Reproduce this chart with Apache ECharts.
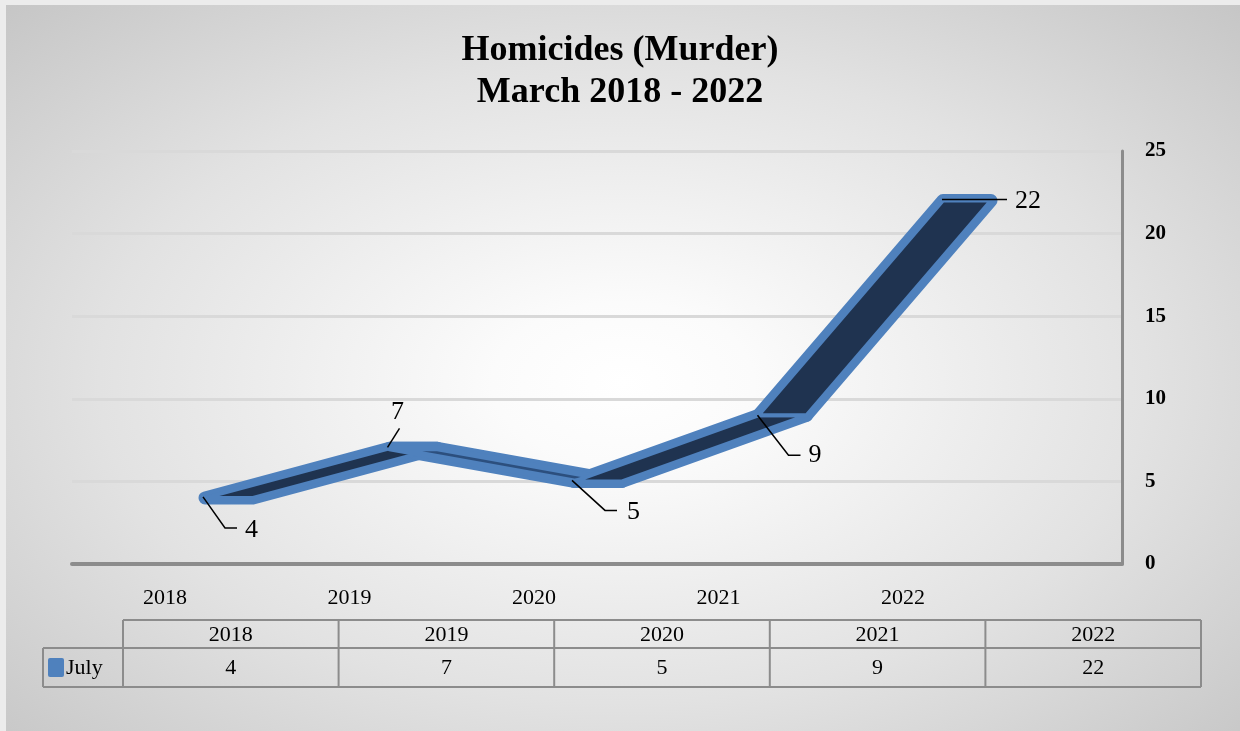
<!DOCTYPE html>
<html><head><meta charset="utf-8">
<script src="https://cdn.jsdelivr.net/npm/echarts@6/dist/echarts.min.js"></script>
<style>
html,body{margin:0;padding:0;background:#fff;}
#wrap{position:relative;width:1240px;height:731px;background:#ececec;overflow:hidden;}
#bg{position:absolute;left:6px;top:5px;right:0;bottom:0;background:radial-gradient(ellipse farthest-corner at 50% 52%, #ffffff 0%, #fbfbfb 15%, #e2e2e2 60%, #c6c6c6 100%);}
#c{position:absolute;left:0;top:0;width:1240px;height:731px;}
</style></head><body>
<div id="wrap"><div id="bg"></div><div id="c"></div></div>
<script>
// ---- data ----
const categories = ['2018', '2019', '2020', '2021', '2022'];
const seriesName = 'July';
const values = [4, 7, 5, 9, 22];
const yMin = 0, yMax = 25, yInterval = 5;
const titleLines = ['Homicides (Murder)', 'March 2018 - 2022'];

// ---- styling / layout constants ----
const FONT = '"Liberation Serif","Times New Roman",serif';
const DEPTH = 48;            // 3D ribbon depth offset (px)
const RIBBON_FILL = '#1f3350';
const RIBBON_UNDER = '#2c4f7e';
const RIBBON_EDGE = '#4f81bd';
const GRID_TOP = 151, GRID_BOTTOM = 167;
// label leader offsets relative to the point (style only)
const labelLayout = [
  {leader: [[-2, -1], [20, 30], [32, 30]], text: [40, 32], align: 'left'},
  {leader: [[-2, -1], [10, -20]], text: [8, -36], align: 'center'},
  {leader: [[-2, -1], [31, 29], [43, 29]], text: [53, 31], align: 'left'},
  {leader: [[-1, 0], [30, 40], [42, 40]], text: [50, 40], align: 'left'},
  {leader: [[-1, -1], [64, -1]], text: [72, 1], align: 'left'}
];

const chart = echarts.init(document.getElementById('c'), null, {renderer: 'canvas'});

function segPoints(i, api) {
  const p0 = api.coord([i, values[i]]);
  const p1 = api.coord([i + 1, values[i + 1]]);
  return [p0, p1, [p1[0] + DEPTH, p1[1]], [p0[0] + DEPTH, p0[1]]];
}
function ribbonOutline(params, api) {
  const i = params.dataIndex;
  if (i >= values.length - 1) return {type: 'group', children: []};
  return {type: 'polygon', shape: {points: segPoints(i, api)},
    style: {fill: RIBBON_EDGE, stroke: RIBBON_EDGE, lineWidth: 13, lineJoin: 'round'}};
}
function ribbonFace(params, api) {
  const i = params.dataIndex;
  if (i >= values.length - 1) return {type: 'group', children: []};
  const down = values[i + 1] < values[i];
  return {type: 'polygon', shape: {points: segPoints(i, api)},
    style: {fill: down ? RIBBON_UNDER : RIBBON_FILL, stroke: RIBBON_EDGE, lineWidth: down ? 6 : 4, lineJoin: 'round'}};
}

function labelItem(params, api) {
  const i = params.dataIndex;
  const p = api.coord([i, values[i]]);
  const L = labelLayout[i];
  return {
    type: 'group',
    children: [
      {type: 'polyline', shape: {points: L.leader.map(o => [p[0] + o[0], p[1] + o[1]])},
       style: {stroke: '#000', lineWidth: 1.5, fill: null}},
      {type: 'text', style: {text: String(values[i]), x: p[0] + L.text[0], y: p[1] + L.text[1],
        textAlign: L.align, textVerticalAlign: 'middle', font: '26px ' + FONT, fill: '#000'}}
    ]
  };
}

// data table
const tblLeft = 123, tblRight = 1201, rowLabelLeft = 43;
const rowY = [620, 648, 687];
const colW = (tblRight - tblLeft) / categories.length;
const tableEls = [];
const lineStyle = {stroke: '#8c8c8c', lineWidth: 2};
tableEls.push({type: 'line', shape: {x1: tblLeft, y1: rowY[0], x2: tblRight, y2: rowY[0]}, style: lineStyle});
tableEls.push({type: 'line', shape: {x1: rowLabelLeft, y1: rowY[1], x2: tblRight, y2: rowY[1]}, style: lineStyle});
tableEls.push({type: 'line', shape: {x1: rowLabelLeft, y1: rowY[2], x2: tblRight, y2: rowY[2]}, style: lineStyle});
tableEls.push({type: 'line', shape: {x1: rowLabelLeft, y1: rowY[1], x2: rowLabelLeft, y2: rowY[2]}, style: lineStyle});
for (let k = 0; k <= categories.length; k++) {
  const x = tblLeft + k * colW;
  tableEls.push({type: 'line', shape: {x1: x, y1: rowY[0], x2: x, y2: rowY[2]}, style: lineStyle});
}
categories.forEach((c, k) => {
  const cx = tblLeft + (k + 0.5) * colW;
  tableEls.push({type: 'text', style: {text: c, x: cx, y: (rowY[0] + rowY[1]) / 2 + 1, textAlign: 'center', textVerticalAlign: 'middle', font: '22px ' + FONT, fill: '#000'}});
  tableEls.push({type: 'text', style: {text: String(values[k]), x: cx, y: (rowY[1] + rowY[2]) / 2 + 1, textAlign: 'center', textVerticalAlign: 'middle', font: '22px ' + FONT, fill: '#000'}});
});
tableEls.push({type: 'rect', shape: {x: 48, y: 658, width: 16, height: 19, r: 2}, style: {fill: RIBBON_EDGE}});
tableEls.push({type: 'text', style: {text: seriesName, x: 66, y: (rowY[1] + rowY[2]) / 2 + 1, textAlign: 'left', textVerticalAlign: 'middle', font: '22px ' + FONT, fill: '#000'}});

const seriesData = values.map((v, i) => [i, v]);
const option = {
  animation: false,
  backgroundColor: 'transparent',
  title: {
    text: titleLines.join('\n'), left: 'center', top: 25,
    textStyle: {fontFamily: FONT, fontSize: 36, fontWeight: 'bold', color: '#000', lineHeight: 42}
  },
  grid: [
    {left: 72, right: 118, top: GRID_TOP, bottom: GRID_BOTTOM},
    {left: 112.75, right: 204.75, top: GRID_TOP, bottom: GRID_BOTTOM},
    {left: 72.75, right: 244.75, top: GRID_TOP, bottom: GRID_BOTTOM}
  ],
  xAxis: [
    {gridIndex: 0, type: 'category', data: categories, axisLabel: {show: false}, axisTick: {show: false},
     axisLine: {lineStyle: {color: '#8c8c8c', width: 4}}},
    {gridIndex: 1, type: 'category', data: categories, show: false},
    {gridIndex: 2, type: 'category', data: categories, axisLine: {show: false}, axisTick: {show: false},
     axisLabel: {margin: 23, fontFamily: FONT, fontSize: 22, color: '#000'}}
  ],
  yAxis: [
    {gridIndex: 0, type: 'value', position: 'right', min: yMin, max: yMax, interval: yInterval,
     axisLine: {show: true, lineStyle: {color: '#8c8c8c', width: 3}}, axisTick: {show: false},
     axisLabel: {margin: 23, fontFamily: FONT, fontSize: 21, fontWeight: 'bold', color: '#000', padding: [4, 0, 0, 0]},
     splitLine: {lineStyle: {color: '#d9d9d9', width: 3}}},
    {gridIndex: 1, type: 'value', min: yMin, max: yMax, interval: yInterval, show: false},
    {gridIndex: 2, type: 'value', min: yMin, max: yMax, interval: yInterval, show: false}
  ],
  series: [
    {name: seriesName, type: 'custom', xAxisIndex: 1, yAxisIndex: 1,
     data: seriesData, encode: {x: 0, y: 1}, renderItem: ribbonOutline, z: 3},
    {name: seriesName + ' face', type: 'custom', xAxisIndex: 1, yAxisIndex: 1,
     data: seriesData, encode: {x: 0, y: 1}, renderItem: ribbonFace, z: 4},
    {name: seriesName + ' labels', type: 'custom', xAxisIndex: 1, yAxisIndex: 1,
     data: seriesData, encode: {x: 0, y: 1}, renderItem: labelItem, z: 5}
  ],
  graphic: {elements: tableEls}
};
chart.setOption(option);
</script>
</body></html>
